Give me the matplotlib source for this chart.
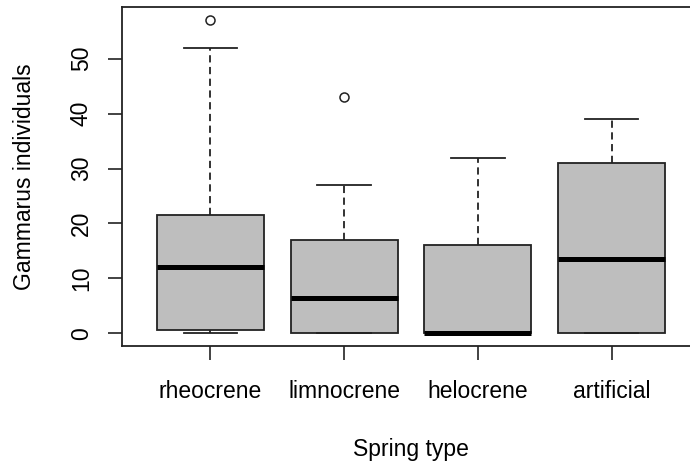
import matplotlib
matplotlib.use("Agg")
import matplotlib.pyplot as plt

# -------------------------
# Data
# -------------------------
spring_types = ["rheocrene", "limnocrene", "helocrene", "artificial"]
whisker_low = [0, 0, 0, 0]
q1 = [0.6, 0, 0, 0]
medians = [12, 6.5, 0, 13.5]
q3 = [21.5, 17, 16, 31]
whisker_high = [52, 27, 32, 39]
outliers = [[57], [43], [], []]

y_ticks = [0, 10, 20, 30, 40, 50]

plt.rcParams["font.family"] = ["Liberation Sans", "DejaVu Sans"]

# -------------------------
# Figure
# -------------------------
fig = plt.figure(figsize=(6.9, 4.65), dpi=100)
# axes spans slightly past the right edge, as in the cropped reference
ax = fig.add_axes([122 / 690, 119 / 465, 578 / 690, 338.5 / 465])

stats = []
for name, lo, a, m, b, hi, fl in zip(spring_types, whisker_low, q1, medians,
                                     q3, whisker_high, outliers):
    stats.append({"label": name, "whislo": lo, "q1": a, "med": m,
                  "q3": b, "whishi": hi, "fliers": fl})

ax.bxp(
    stats,
    positions=range(1, len(spring_types) + 1),
    widths=0.8,
    patch_artist=True,
    boxprops=dict(facecolor="#BEBEBE", edgecolor="#222222", linewidth=1.3),
    medianprops=dict(color="black", linewidth=3.6, solid_capstyle="butt"),
    whiskerprops=dict(color="#222222", linewidth=1.3, linestyle=(0, (4, 2.5))),
    capprops=dict(color="#222222", linewidth=1.3),
    capwidths=0.4,
    flierprops=dict(marker="o", markerfacecolor="none",
                    markeredgecolor="#222222", markersize=6.5,
                    markeredgewidth=1.1),
)

ax.set_xlim(0.34, 4.66)
ax.set_ylim(-2.28, 59.28)
ax.set_yticks(y_ticks)
ax.set_yticklabels([str(t) for t in y_ticks], rotation=90, va="center")
ax.set_xticks(range(1, len(spring_types) + 1))
ax.set_xticklabels(spring_types)

ax.tick_params(axis="both", direction="out", length=10, width=1.2,
               colors="#222222", labelsize=16.5, labelcolor="black")
ax.tick_params(axis="x", pad=14.5)
ax.tick_params(axis="y", pad=11)

for sp in ax.spines.values():
    sp.set_linewidth(1.3)
    sp.set_color("#222222")

ax.set_xlabel("Spring type", fontsize=16.5, labelpad=25)
ax.set_ylabel("Gammarus individuals", fontsize=16.5, labelpad=24)

fig.savefig("out.png", dpi=100)
